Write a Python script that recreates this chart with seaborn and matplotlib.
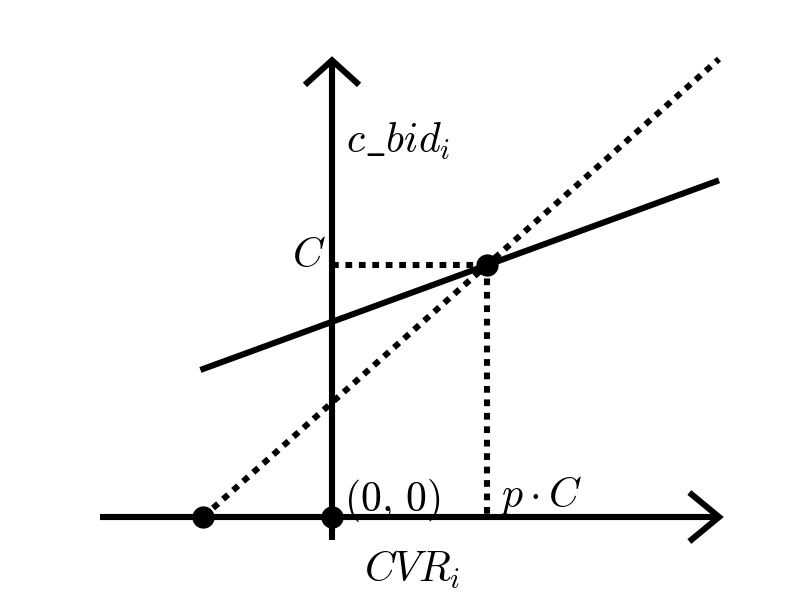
import numpy as np
import matplotlib.pyplot as plt
import seaborn as sns

sns.set_style('white')
plt.rcParams['mathtext.fontset'] = 'cm'
plt.rcParams['font.family'] = ['DejaVu Sans']
plt.rcParams['text.color'] = 'black'

# 数据（单位：以原点为零）
xaxis_x = [-1.8, 3.0]
xaxis_y = [0.0, 0.0]
yaxis_x = [0.0, 0.0]
yaxis_y = [-0.18, 3.54]

dotted_x = [-1.0, 3.0]
dotted_y = [0.0, 3.55]
solid_x = [-1.02, 3.0]
solid_y = [1.14, 2.61]

guide_h_x = [0.0, 1.2]
guide_h_y = [1.95, 1.95]
guide_v_x = [1.2, 1.2]
guide_v_y = [1.95, 0.0]

pts_x = [-1.0, 0.0, 1.2]
pts_y = [0.0, 0.0, 1.95]

lw = 4.4
dot = (0, (1.1, 1.1))

fig = plt.figure(figsize=(8, 6), dpi=100)
ax = fig.add_axes([0, 0, 1, 1])

# 坐标轴
sns.lineplot(x=xaxis_x, y=xaxis_y, ax=ax, color='black', lw=lw, solid_capstyle='butt')
sns.lineplot(x=yaxis_x, y=yaxis_y, ax=ax, color='black', lw=lw, solid_capstyle='butt',
             sort=False, estimator=None)
# 箭头
tx, ty = xaxis_x[1], 0.0
ax.plot([tx - 0.23, tx, tx - 0.23], [ty + 0.19, ty, ty - 0.19], color='black', lw=lw,
        solid_joinstyle='miter', solid_capstyle='butt')
tx, ty = 0.0, yaxis_y[1]
ax.plot([-0.21, tx, 0.21], [ty - 0.19, ty, ty - 0.19], color='black', lw=lw,
        solid_joinstyle='miter', solid_capstyle='butt')

# 直线
sns.lineplot(x=dotted_x, y=dotted_y, ax=ax, color='black', lw=lw, linestyle=dot,
             dash_capstyle='butt')
sns.lineplot(x=solid_x, y=solid_y, ax=ax, color='black', lw=lw, solid_capstyle='butt')
ax.plot(guide_h_x, guide_h_y, color='black', lw=lw, linestyle=dot, dash_capstyle='butt')
ax.plot(guide_v_x, guide_v_y, color='black', lw=lw, linestyle=dot, dash_capstyle='butt')

# 点
sns.scatterplot(x=pts_x, y=pts_y, ax=ax, color='black', s=220, edgecolor='black', zorder=5)

# 文字
fs = 30
ax.text(0.11, 2.82, r'$c\_bid_i$', fontsize=fs, ha='left', va='baseline')
ax.text(-0.05, 1.94, r'$C$', fontsize=fs, ha='right', va='baseline')
ax.text(0.09, 0.05, r'$(0,\,0)$', fontsize=fs, ha='left', va='baseline')
ax.text(1.30, 0.08, r'$p\cdot C$', fontsize=fs, ha='left', va='baseline')
ax.text(0.25, -0.50, r'$CVR_i$', fontsize=fs, ha='left', va='baseline')

ax.set_xlim(-332 / 129, 468 / 129)
ax.set_ylim(-83 / 129, 517 / 129)
ax.axis('off')

fig.savefig('out.png', dpi=100)
